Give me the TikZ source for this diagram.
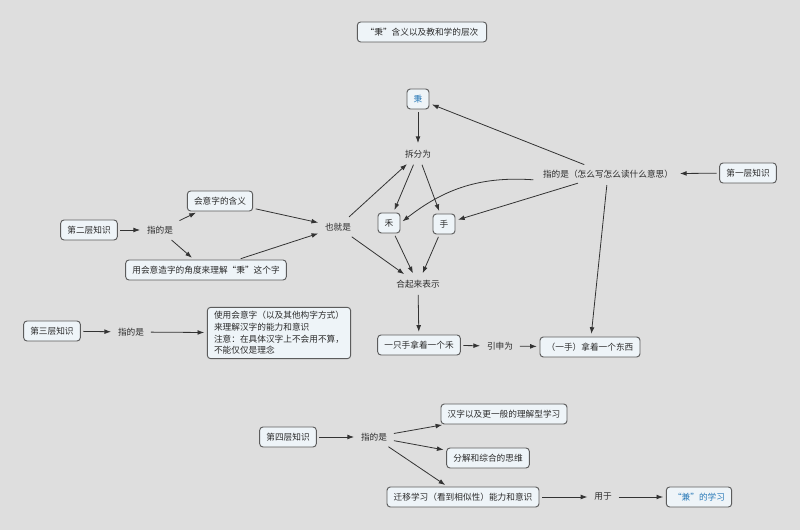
\documentclass[tikz,border=0pt]{standalone}
\usepackage{fontspec}
\usepackage{tikz}
\usetikzlibrary{arrows.meta, positioning}
\newfontfamily\cjk{Noto Sans CJK SC}
\newcommand\mapfont{\cjk\fontsize{6.5}{8.8}\selectfont}
\definecolor{bg}{HTML}{DEDEDE}
\definecolor{boxfill}{HTML}{EEF4F8}
\definecolor{boxline}{HTML}{5C5C5C}
\definecolor{ink}{HTML}{2B2B2B}
\definecolor{linecol}{HTML}{333333}
\definecolor{blueink}{HTML}{2A7AB8}

\begin{document}
\begin{tikzpicture}[
    x=0.75pt, y=-0.75pt,
    every node/.style={font=\mapfont, text=ink},
    box/.style={rectangle, draw=boxline, fill=boxfill, rounded corners=2.5pt, line width=0.7pt, inner xsep=5pt, inner ysep=3pt, minimum height=15pt},
    label/.style={inner sep=3pt},
    arrow/.style={-{Latex[length=5pt, width=3.6pt]}, draw=linecol, line width=0.6pt, shorten >=2pt, shorten <=2pt}
]
\useasboundingbox[fill=bg] (0,0) rectangle (800,530);

% Nodes
\node[box, minimum width=97pt] (title) at (422,32) {“秉”含义以及教和学的层次};

\node[box, text=blueink] (bing) at (418,99) {秉};
\node[label] (chaifen) at (418,154) {拆分为};
\node[box] (he) at (389,223) {禾};
\node[box] (shou) at (444,224) {手};
\node[label] (heqi) at (418,284) {合起来表示};
\node[label] (zhide1) at (608,174) {指的是（怎么写怎么读什么意思）};
\node[box] (level1) at (748,173) {第一层知识};

\node[label] (yejiushi) at (338,227) {也就是};
\node[box] (huiyi) at (220,201) {会意字的含义};
\node[box] (level2) at (89,230) {第二层知识};
\node[label] (zhide2) at (160,230) {指的是};
\node[box] (yonghuiyi) at (206,270) {用会意造字的角度来理解“秉”这个字};

\node[box] (level3) at (52,331) {第三层知识};
\node[label] (zhide3) at (131,332) {指的是};
\node[box, align=left] (note3) at (279,333) {使用会意字（以及其他构字方式）\\来理解汉字的能力和意识\\注意：在具体汉字上不会用不算，\\不能仅仅是理念};

\node[box] (yizhi) at (419,345) {一只手拿着一个禾};
\node[label] (yinshen) at (500,346) {引申为};
\node[box] (nazhe) at (590,347) {（一手）拿着一个东西};

\node[box] (level4) at (288,437) {第四层知识};
\node[label] (zhide4) at (374,437) {指的是};
\node[box] (hanzi) at (504,414) {汉字以及更一般的理解型学习};
\node[box] (fenjie) at (488,458) {分解和综合的思维};
\node[box] (qianyi) at (463,497) {迁移学习（看到相似性）能力和意识};
\node[label] (yongyu) at (603,497) {用于};
\node[box, text=blueink] (jian) at (699,497) {“兼”的学习};

% Arrows
\draw[arrow] (bing) -- (chaifen);
\draw[arrow] (chaifen) -- (he);
\draw[arrow] (chaifen) -- (shou);
\draw[arrow] (he) -- (heqi);
\draw[arrow] (shou) -- (heqi);
\draw[arrow] (level1) -- (zhide1);
\draw[arrow] (zhide1) -- (bing);
\draw[arrow] ([xshift=-2pt, yshift=-4.5pt]zhide1.west) to[out=176, in=38] (he.east);
\draw[arrow] (zhide1) -- (shou);
\draw[arrow] (zhide1) -- (nazhe);

\draw[arrow] (level2) -- (zhide2);
\draw[arrow] (zhide2) -- (huiyi);
\draw[arrow] (zhide2) -- (yonghuiyi);
\draw[arrow] (huiyi) -- (yejiushi);
\draw[arrow] (yonghuiyi) -- (yejiushi);
\draw[arrow] (yejiushi) -- (chaifen);
\draw[arrow] (yejiushi) -- (heqi);

\draw[arrow] (heqi) -- (yizhi);
\draw[arrow] (yizhi) -- (yinshen);
\draw[arrow] (yinshen) -- (nazhe);

\draw[arrow] (level3) -- (zhide3);
\draw[arrow] (zhide3) -- (note3);

\draw[arrow] (level4) -- (zhide4);
\draw[arrow] (zhide4) -- (hanzi);
\draw[arrow] (zhide4) -- (fenjie);
\draw[arrow] (zhide4) -- (qianyi);
\draw[arrow] (qianyi) -- (yongyu);
\draw[arrow] (yongyu) -- (jian);

\end{tikzpicture}
\end{document}
